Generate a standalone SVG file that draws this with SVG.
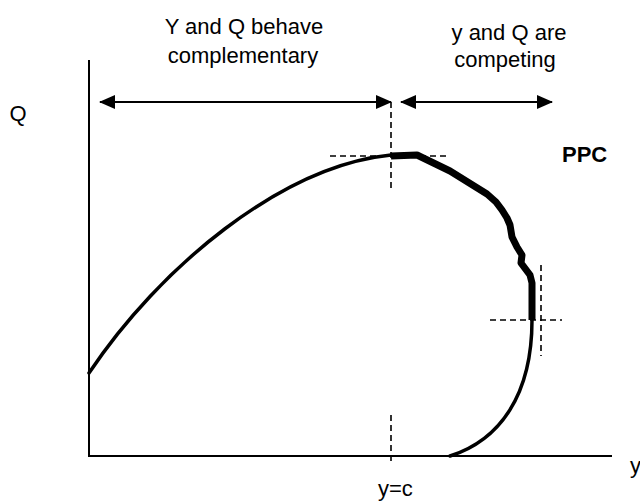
<svg xmlns="http://www.w3.org/2000/svg" width="640" height="501" viewBox="0 0 640 501">
<defs>
<style>
text{font-family:"Liberation Sans",Arial,sans-serif;font-size:22px;fill:#000}
.axis{stroke:#000;stroke-width:2;fill:none}
.dash{stroke:#000;stroke-width:1.6;stroke-dasharray:6 4;fill:none}
.curve{stroke:#000;stroke-width:3.5;fill:none;stroke-linecap:round}
.thick{stroke:#000;stroke-width:7;fill:none;stroke-linejoin:round}
.arr{stroke:#000;stroke-width:2;fill:none}
</style>
<marker id="ah" viewBox="0 0 16 14" refX="15" refY="7" markerWidth="16" markerHeight="14" markerUnits="userSpaceOnUse" orient="auto-start-reverse">
<path d="M0,0 L16,7 L0,14 Z" fill="#000"/>
</marker>
</defs>
<rect width="640" height="501" fill="#fff"/>
<g id="axes">
<line class="axis" x1="89" y1="60" x2="89" y2="457"/>
<line class="axis" x1="88" y1="456" x2="612" y2="456" stroke-width="2.5"/>
</g>
<g id="guides">
<line class="dash" x1="391" y1="102" x2="391" y2="192"/>
<line class="dash" x1="330" y1="156" x2="450" y2="156"/>
<line class="dash" x1="391" y1="415" x2="391" y2="463"/>
<line class="dash" x1="490" y1="320" x2="562" y2="320"/>
<line class="dash" x1="541" y1="265" x2="541" y2="356"/>
</g>
<g id="connectors">
<line class="arr" x1="100" y1="102" x2="391" y2="102" marker-start="url(#ah)" marker-end="url(#ah)"/>
<line class="arr" x1="401" y1="102" x2="552" y2="102" marker-start="url(#ah)" marker-end="url(#ah)"/>
</g>
<g id="ppc-curve">
<path class="curve" d="M89,373 C159,268 281,166 391,155"/>
<path class="thick" d="M391,156 L417,155 L450,171 L487,194 L496,202 L502,210 L507,218 L510,225 L512,237 L517,247 L522,255 L521,263 L530,275 L532,283 L532,320"/>
<path class="curve" d="M532,320 C532,395 500,440 450,456"/>
</g>
<g id="labels">
<text x="244" y="34" text-anchor="middle">Y and Q behave</text>
<text x="243" y="63" text-anchor="middle">complementary</text>
<text x="509" y="40" text-anchor="middle">y and Q are</text>
<text x="505" y="67" text-anchor="middle">competing</text>
<text x="18" y="121" text-anchor="middle">Q</text>
<text x="562" y="162" font-weight="bold">PPC</text>
<text x="378" y="496">y=c</text>
<text x="630" y="473">y</text>
</g>
</svg>
